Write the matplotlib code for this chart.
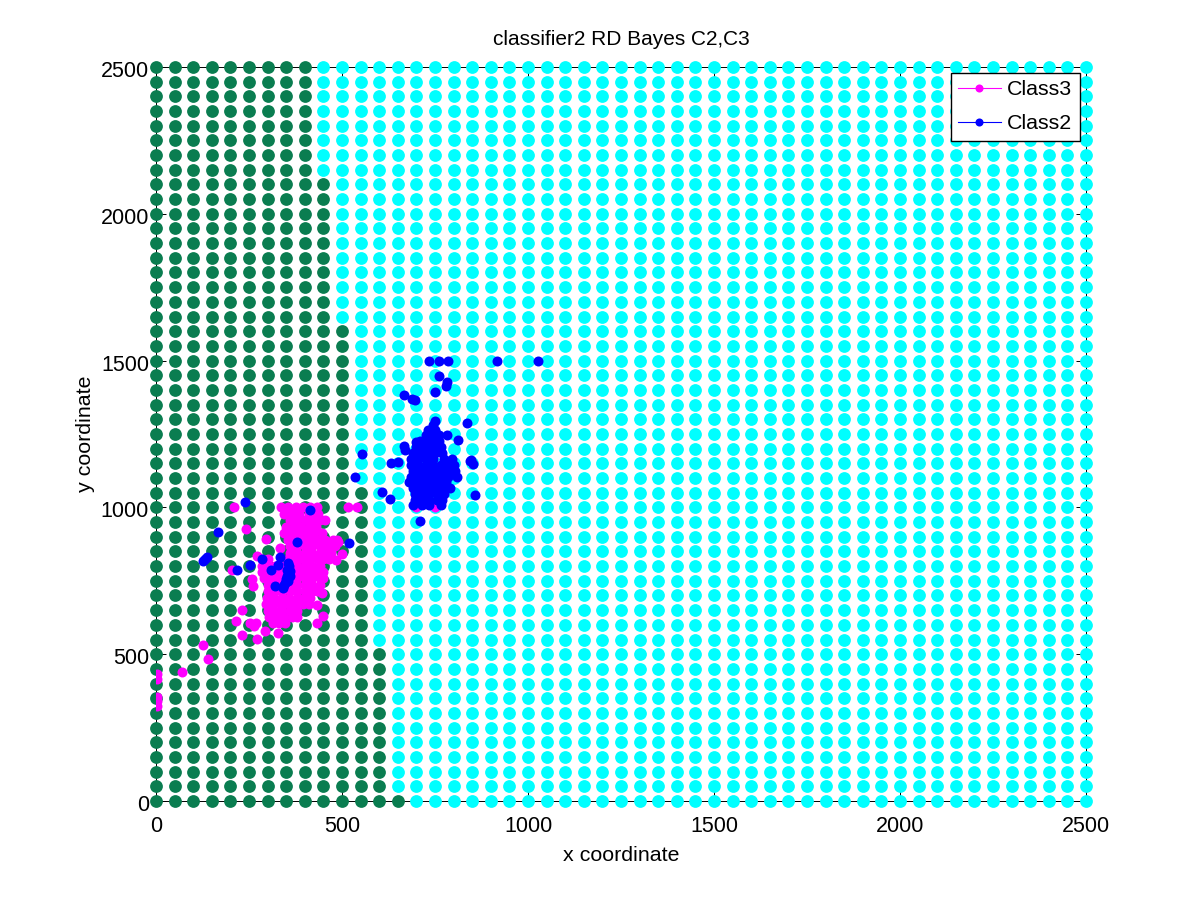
import matplotlib
matplotlib.use('Agg')
import matplotlib.pyplot as plt
from matplotlib.transforms import ScaledTranslation

plt.rcParams['font.family'] = ['Liberation Sans', 'DejaVu Sans']

grid_vals = [0, 50, 100, 150, 200, 250, 300, 350, 400, 450, 500, 550, 600, 650, 700, 750, 800, 850, 900,
             950, 1000, 1050, 1100, 1150, 1200, 1250, 1300, 1350, 1400, 1450, 1500, 1550, 1600, 1650, 1700,
             1750, 1800, 1850, 1900, 1950, 2000, 2050, 2100, 2150, 2200, 2250, 2300, 2350, 2400, 2450, 2500]

# decision boundary: rows up to band_top are green up to band_x
band_top = [0, 500, 1050, 1600, 2100, 2500]
band_x = [650, 600, 550, 500, 450, 400]

class3_points = [
    (335, 1000), (355, 1000), (375, 1000), (395, 1000), (415, 1000), (432, 1000),
    (345, 978), (365, 978), (385, 978), (410, 978), (435, 978),
    (360, 956), (380, 956), (400, 956), (420, 956), (440, 956), (455, 956),
    (350, 934), (370, 934), (390, 934), (410, 934), (430, 934),
    (345, 912), (365, 912), (385, 912), (405, 912), (425, 912), (445, 912),
    (355, 890), (375, 890), (395, 890), (415, 890), (435, 890), (455, 890), (475, 890), (487, 890),
    (360, 868), (380, 868), (400, 868), (420, 868), (440, 868), (460, 868), (480, 868),
    (360, 846), (380, 846), (400, 846), (420, 846), (440, 846), (460, 846), (470, 846),
    (285, 824), (300, 824), (355, 824), (375, 824), (395, 824), (415, 824), (435, 824), (450, 824),
    (285, 802), (305, 802), (320, 802), (340, 802), (360, 802), (380, 802), (400, 802), (420, 802), (440, 802),
    (285, 780), (305, 780), (325, 780), (345, 780), (370, 780), (390, 780), (410, 780), (430, 780), (450, 780),
    (290, 758), (310, 758), (330, 758), (350, 758), (360, 758), (380, 758), (400, 758), (420, 758), (440, 758),
    (448, 758),
    (300, 736), (320, 736), (340, 736), (360, 736), (380, 736), (400, 736), (420, 736), (440, 736),
    (300, 714), (320, 714), (340, 714), (360, 714), (380, 714), (400, 714), (420, 714), (432, 714),
    (298, 692), (318, 692), (338, 692), (358, 692), (378, 692), (398, 692), (415, 692),
    (295, 670), (315, 670), (335, 670), (355, 670), (375, 670), (395, 670), (410, 670),
    (300, 648), (320, 648), (340, 648), (360, 648), (380, 648),
    (305, 626), (325, 626), (345, 626), (365, 626), (380, 626),
    (315, 606), (330, 606), (348, 606),
    (211, 1000), (242, 928), (296, 891), (333, 863), (203, 787), (257, 757), (262, 732),
    (446, 707), (434, 667), (230, 649), (448, 630), (434, 607), (214, 612), (253, 605),
    (269, 605), (264, 597), (293, 580), (327, 571), (230, 567), (272, 551), (125, 532),
    (141, 484), (69, 438), (4, 433), (4, 416), (4, 354), (4, 340), (4, 325),
    (515, 1000), (540, 1000), (465, 825), (484, 820), (500, 840), (490, 883), (271, 835),
    (700, 1000), (750, 1000),
]

class2_points = [
    (238, 1019), (167, 917), (138, 832), (125, 817), (131, 825), (219, 787), (254, 805),
    (286, 824), (332, 832), (328, 805), (309, 787), (355, 812), (351, 787), (351, 765),
    (347, 742), (342, 725), (320, 731), (360, 765), (414, 990), (379, 882), (519, 878),
    (358, 800), (360, 785), (357, 775), (350, 755), (345, 735), (355, 750),
    (734, 1500), (761, 1500), (784, 1500), (918, 1500), (1027, 1500),
    (762, 1449), (781, 1426), (779, 1413), (750, 1394), (667, 1383), (687, 1368), (696, 1366),
    (835, 1289), (813, 1230), (781, 1245), (555, 1183), (535, 1105), (608, 1054), (629, 1027),
    (710, 953), (858, 1042), (848, 1161), (851, 1148), (844, 1159), (633, 1152), (651, 1156),
    (667, 1209), (669, 1195), (699, 1224),
    (750, 1293), (745, 1280),
    (730, 1265), (750, 1265),
    (725, 1245), (745, 1245), (760, 1245),
    (710, 1225), (730, 1225), (750, 1225), (762, 1225),
    (700, 1205), (720, 1205), (740, 1205), (760, 1205), (765, 1205),
    (690, 1185), (710, 1185), (730, 1185), (750, 1185), (770, 1185),
    (685, 1165), (705, 1165), (725, 1165), (745, 1165), (775, 1165), (795, 1165),
    (685, 1145), (705, 1145), (725, 1145), (745, 1145), (765, 1145), (785, 1145), (800, 1145),
    (690, 1125), (710, 1125), (730, 1125), (750, 1125), (770, 1125), (790, 1125), (805, 1125),
    (685, 1105), (705, 1105), (725, 1105), (745, 1105), (765, 1105), (785, 1105), (808, 1105),
    (680, 1085), (700, 1085), (720, 1085), (740, 1085), (760, 1085), (780, 1085),
    (690, 1065), (710, 1065), (730, 1065), (750, 1065), (770, 1065), (790, 1065),
    (695, 1045), (715, 1045), (735, 1045), (755, 1045), (775, 1045),
    (695, 1025), (715, 1025), (735, 1025), (755, 1025), (770, 1025),
    (690, 1008), (715, 1008), (735, 1008), (765, 1008),
]

fig = plt.figure(figsize=(12, 9), dpi=100)
ax = fig.add_axes([0.13, 0.11, 0.775, 0.8156])

green_x, green_y, cyan_x, cyan_y = [], [], [], []
for y in grid_vals:
    limit = next(b for t, b in zip(band_top, band_x) if y <= t)
    for x in grid_vals:
        if x <= limit:
            green_x.append(x)
            green_y.append(y)
        else:
            cyan_x.append(x)
            cyan_y.append(y)

ax.plot(green_x, green_y, 'o', color='#0a7d50', ms=9.2, mew=0, clip_on=False, zorder=3)
ax.plot(cyan_x, cyan_y, 'o', color='#00ffff', ms=9.2, mew=0, clip_on=False, zorder=3)

ax.plot([p[0] for p in class3_points], [p[1] for p in class3_points], 'o', color='#ff00ff',
        ms=7.2, mew=0, zorder=4)
ax.plot([p[0] for p in class2_points], [p[1] for p in class2_points], 'o', color='#0000ff',
        ms=7.2, mew=0, zorder=4)

h3, = ax.plot([], [], '-o', color='#ff00ff', lw=0.8, ms=5.8, mew=0)
h2, = ax.plot([], [], '-o', color='#0000ff', lw=0.8, ms=5.8, mew=0)

ax.set_xlim(0, 2500)
ax.set_ylim(0, 2500)
ax.set_xticks([0, 500, 1000, 1500, 2000, 2500])
ax.set_yticks([0, 500, 1000, 1500, 2000, 2500])
ax.tick_params(direction='in', top=True, right=True, length=7, width=0.7, labelsize=15.5)
ax.tick_params(axis='x', pad=11)
ax.tick_params(axis='y', pad=5)
for s in ax.spines.values():
    s.set_linewidth(0.7)

# y tick labels sit about 2px lower in the reference
down = ScaledTranslation(0, -2 / 100, fig.dpi_scale_trans)
for lab in ax.get_yticklabels():
    lab.set_transform(lab.get_transform() + down)

ax.set_title('classifier2 RD Bayes C2,C3', fontsize=15, pad=16)
ax.set_xlabel('x coordinate', fontsize=15.4, labelpad=6)
ax.set_ylabel('y coordinate', fontsize=15.4, labelpad=4)

leg = ax.legend([h3, h2], ['Class3', 'Class2'], loc='upper right', bbox_to_anchor=(1080 / 1200, 1 - 73 / 900),
                bbox_transform=fig.transFigure, borderaxespad=0, fontsize=15.4, fancybox=False, framealpha=1,
                edgecolor='black', handlelength=2.0, handletextpad=0.3, labelspacing=0.7, borderpad=0.35)
leg.get_frame().set_linewidth(1)
leg.set_zorder(6)

fig.savefig('out.png', dpi=100)
